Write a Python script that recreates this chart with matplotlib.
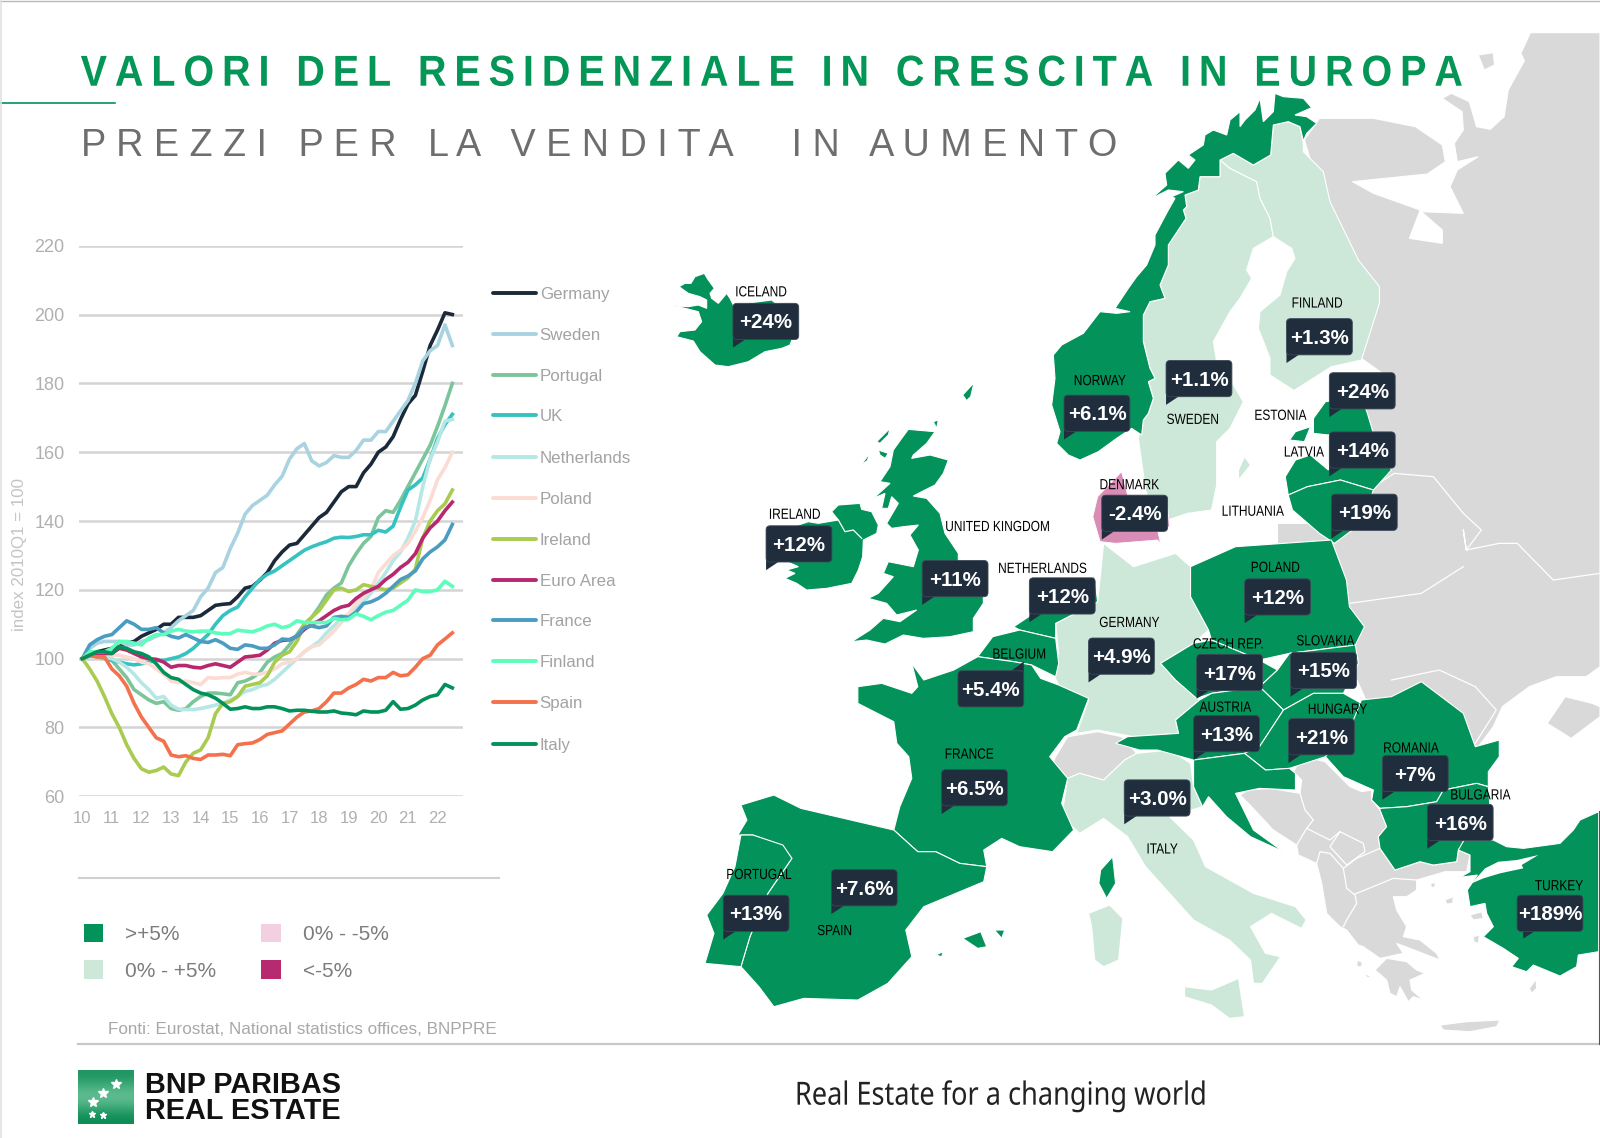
#!/usr/bin/env python3
"""Valori del residenziale in Europa - line chart, map and price change bubbles"""

import numpy as np
import matplotlib
matplotlib.use('Agg')
import matplotlib.pyplot as plt
from matplotlib.patches import FancyBboxPatch, Polygon, Rectangle
from matplotlib.patheffects import AbstractPathEffect
from matplotlib.transforms import Affine2D

GREEN = '#03925a'
LIGHT = '#cde8d9'
GREY_LAND = '#d9d9d9'
NAVY = '#1f2d3d'
PINK = '#d98cb6'
PX = 1600 / 1568

# line chart data, quarterly from 2010Q1, index 2010Q1 = 100
germany = [100, 101.5, 102, 102.5, 103, 103.5, 104.5, 105, 106.5, 107.5, 108.5, 110, 110, 112, 112, 112, 112.5,
           114, 115.5, 115.8, 116, 118, 120.5, 121, 122.8, 125, 128.5, 131, 133, 133.5, 136, 138.5, 141, 142.5,
           145.5, 148.5, 150, 150, 154, 156.5, 160, 161.5, 164.5, 169.5, 174, 176.5, 183.5, 191, 195.5, 200.5, 200]
sweden = [100, 103, 104.5, 105, 105, 105, 104, 104, 105, 105.5, 106.5, 107.5, 109, 111, 112.5, 114, 118,
          120.5, 125, 126.5, 132, 136.5, 142, 144.5, 146, 147.5, 150.5, 153, 158, 161, 162.5, 157.5, 156, 157,
          159, 158.5, 158.5, 160.5, 163.5, 163.5, 166, 166, 169, 172, 175, 180, 186.5, 189.5, 191, 197, 191]
portugal = [100, 101, 100.5, 100, 99.5, 97, 94.5, 91, 89.5, 88, 87, 87.5, 85.5, 85, 85.5, 87.5, 89,
            90, 90, 89.8, 89.5, 93, 93.5, 94.5, 96, 99, 100.5, 101.5, 104, 107, 110, 112, 115, 118.5,
            120.5, 122, 127, 130.5, 133.5, 135.5, 141, 143, 142.5, 146, 150, 154, 158, 162, 167.5, 173.5, 180]
uk = [100, 100.8, 101, 100.5, 99.5, 99, 98.5, 98.2, 98.5, 99, 99.5, 99.5, 100, 100.5, 101.5, 103, 105,
      107, 110, 112.5, 114, 115, 118, 120.5, 123, 124.5, 125.5, 127, 128.5, 130, 131.5, 132.5, 133.3, 134,
      135, 135.3, 135.2, 135.5, 136, 136, 137.3, 136.8, 138.5, 144, 149, 150.5, 152.5, 158, 164, 168, 171]
netherlands = [100, 101, 101, 100.5, 100, 99, 97.5, 95.5, 93, 91, 88.5, 89, 86.5, 85.3, 85.2, 85.2, 85.5,
               86, 86.5, 87, 88, 89, 90.5, 91, 92, 92.5, 94, 96, 98, 100, 102, 103.5, 105, 107.5,
               109.5, 111.5, 113, 114.5, 116.5, 119, 122, 125, 128.5, 131, 135, 140, 150, 158, 163, 169, 169.5]
poland = [100, 101, 102, 101.5, 101, 101, 100.5, 100, 99, 98.5, 97, 95.5, 93.5, 93, 93.5, 93, 92.5,
          94.5, 94.3, 94.5, 94.5, 95.5, 96, 95.5, 95.5, 96, 97, 98.5, 99, 100, 102, 103.5, 104, 106,
          108, 110.5, 113, 116, 118, 120, 125, 127.5, 130, 131.5, 133.5, 137, 141, 146, 152, 155.5, 160]
ireland = [100, 97, 93.5, 89, 84, 80, 75, 71, 68, 67, 67.5, 68.5, 66.5, 66, 70, 72.5, 73.5,
           77, 84, 87, 87.5, 89, 92, 92.5, 93, 95, 99, 101, 102, 105, 110, 112, 114, 117,
           120, 120.5, 119.5, 120, 121.5, 121, 120.5, 120, 120.5, 122, 123.5, 126, 135, 140, 143, 145, 149]
euro_area = [100, 101, 101.5, 101.5, 101.5, 103, 102.5, 101.5, 100.5, 100, 99.8, 99, 97.5, 98, 98, 97.5, 97.3,
             98, 98.5, 98, 97.5, 99, 100.5, 100.7, 101, 102.5, 104.5, 105.3, 105.5, 106.5, 108.5, 110, 111, 112.5,
             114, 115, 115.5, 117.5, 119, 120, 121, 123, 124.5, 126.5, 128, 130.5, 135, 138, 140, 143, 145.5]
france = [100, 104, 105.5, 106.5, 107, 109, 111, 110, 108.5, 108.5, 109, 107.5, 106.5, 106, 107, 106, 105,
          104.7, 105.5, 104.5, 103, 102.7, 104, 103.7, 103, 103, 104, 105.7, 105.5, 106.5, 109, 109.5, 109, 109.5,
          112, 112.3, 112, 113.5, 116, 116.5, 117.5, 119, 121, 123, 124, 125.5, 129, 131, 132.5, 134.5, 139]
finland = [100, 102, 102, 102, 103, 105, 105, 104.5, 104, 106, 107, 107, 108, 108.5, 108, 107.8, 108,
           108, 107.5, 107.2, 107.3, 108.3, 108, 107.8, 108.5, 109.5, 110, 109, 109.5, 111, 110.5, 110.5, 110.5, 110.5,
           111.7, 111.3, 111.5, 113, 112.3, 111.3, 112.5, 113.5, 114, 115.5, 117, 120, 119.5, 119.5, 120, 122.5, 121]
spain = [100, 101, 100.5, 100.5, 97, 95, 92, 87, 83, 80, 77, 76, 72, 71.5, 71.8, 71, 70.7,
         72, 72, 72.2, 71.8, 75, 75.3, 75.5, 76.5, 78, 78.5, 79, 81, 83, 84.5, 84.8, 85.5, 87.5,
         90, 90, 91.5, 92.5, 94, 93.5, 94.5, 94.5, 96, 95, 95.3, 97.5, 100, 101, 104, 105.7, 107.5]
italy = [100, 101, 102, 102, 101.5, 103.5, 103, 102, 101.5, 100.5, 98.5, 96, 94.5, 94, 92.5, 91, 90,
         89.5, 88.5, 87, 85.3, 85.5, 86, 85.5, 85.5, 86, 86, 85.5, 84.8, 85, 85, 84.7, 84.5, 84.5,
         84.8, 84.2, 84, 83.7, 84.8, 84.5, 84.5, 85, 87.5, 85.3, 85.5, 86.5, 88, 89, 89.5, 92.5, 91.5]

series_names = ['Germany', 'Sweden', 'Portugal', 'UK', 'Netherlands', 'Poland', 'Ireland', 'Euro Area',
                'France', 'Finland', 'Spain', 'Italy']
series_values = [germany, sweden, portugal, uk, netherlands, poland, ireland, euro_area, france, finland, spain, italy]
series_colors = ['#1b2a3a', '#a9d3e0', '#7cc59a', '#35c2c0', '#b5e8e4', '#fbdcd4', '#a8cb50', '#b8286e',
                 '#4a9cc0', '#5dfdbb', '#f4714d', '#03915a']
year_ticks = list(range(10, 23))
index_ticks = list(range(60, 221, 20))

# bubbles: label, change, colour group
countries = ['ICELAND', 'FINLAND', 'ESTONIA', 'SWEDEN', 'NORWAY', 'LATVIA', 'DENMARK', 'LITHUANIA', 'IRELAND',
             'UNITED KINGDOM', 'NETHERLANDS', 'POLAND', 'GERMANY', 'BELGIUM', 'CZECH REP.', 'SLOVAKIA', 'AUSTRIA',
             'HUNGARY', 'ROMANIA', 'BULGARIA', 'FRANCE', 'ITALY', 'SPAIN', 'PORTUGAL', 'TURKEY']
changes = ['+24%', '+1.3%', '+24%', '+1.1%', '+6.1%', '+14%', '-2.4%', '+19%', '+12%',
           '+11%', '+12%', '+12%', '+4.9%', '+5.4%', '+17%', '+15%', '+13%',
           '+21%', '+7%', '+16%', '+6.5%', '+3.0%', '+7.6%', '+13%', '+189%']
bubble_xy = [(750.5, 315), (1293, 330), (1335, 383), (1175, 371), (1075, 405), (1335, 441), (1112, 503), (1337, 502),
             (783, 533), (936, 567), (1041, 584), (1252, 585), (1099, 643), (971, 675), (1205, 659), (1297, 657),
             (1202, 719), (1295, 722), (1387, 758), (1431, 806), (955, 772), (1134, 782), (847, 870), (741, 895),
             (1519, 895)]
label_xy = [(746, 285), (1291, 296), (1255, 406), (1169, 410), (1078, 372), (1278, 442), (1107, 474), (1228, 500),
            (779, 503), (978, 515), (1022, 556), (1250, 555), (1107, 609), (999, 640), (1204, 630), (1299, 627),
            (1201, 692), (1311, 694), (1383, 732), (1451, 778), (950, 738), (1139, 831), (818, 911), (744, 856),
            (1528, 867)]


def hi(pts):
    """outline points read on the northern crop of the map"""
    return [(646.8 + x * 0.5875, (30 + y / 3) * 0.98) for x, y in pts]


def lo(pts):
    """outline points read on the southern crop of the map"""
    return [(646.8 + x * 0.5875, (530 + y / 3) * 0.98) for x, y in pts]


def at(x0, y0, pts):
    """outline points read on a 3x crop whose corner is x0, y0"""
    return [((x0 + x / 3) * 0.98, (y0 + y / 3) * 0.98) for x, y in pts]


# map outlines
russia_etc = hi([(1452, 8), (1436, 70), (1442, 92), (1415, 180), (1408, 260), (1385, 298), (1362, 290), (1350, 215),
                 (1320, 190), (1305, 205), (1338, 245), (1340, 300), (1325, 340), (1330, 395), (1365, 380), (1330, 420),
                 (1318, 470), (1340, 550), (1270, 545), (1305, 600), (1305, 640), (1250, 625), (1268, 540), (1190, 490),
                 (1155, 455), (1280, 432), (1310, 395), (1305, 345), (1260, 290), (1190, 265), (1100, 265), (1075, 330),
                 (1120, 600), (1160, 900), (1170, 985), (1205, 1030), (1150, 1110), (1190, 1250), (1190, 1370), (1170, 1480),
                 (1030, 1480), (1030, 1530)]) + \
             lo([(1030, 40), (1100, 60), (1150, 400), (1200, 600), (1365, 650), (1390, 590), (1405, 530), (1450, 470),
                 (1495, 440), (1545, 440), (1568, 410)]) + hi([(1568, 8)])
kolguev = hi([(1365, 75), (1390, 68), (1392, 105), (1375, 120)])
crimea = lo([(1510, 500), (1555, 520), (1568, 530), (1568, 560), (1520, 625), (1480, 580)])
balkans = at(1240, 740, [(0, 165), (25, 150), (90, 145), (180, 160), (185, 120), (160, 95), (175, 70), (215, 55), (255, 65),
                         (290, 100), (330, 140), (365, 155), (395, 150), (395, 180), (420, 210), (440, 260), (415, 290),
                         (420, 325), (465, 390), (540, 365), (580, 375), (650, 365), (655, 330), (690, 345), (680, 395),
                         (615, 395), (530, 420), (530, 450), (500, 470), (460, 470), (470, 510), (500, 560), (490, 590),
                         (540, 600), (590, 640), (600, 660), (510, 625), (470, 610), (490, 640), (420, 655), (370, 620),
                         (355, 615), (320, 570), (300, 560), (260, 520), (245, 430), (230, 370), (175, 345), (170, 315),
                         (100, 270), (30, 195)])
peloponnese = at(1240, 740, [(405, 690), (440, 655), (500, 665), (530, 690), (555, 700), (510, 720), (515, 750), (550, 780),
                             (520, 770), (505, 785), (480, 740), (470, 770), (450, 760), (440, 720)])
crete = at(1240, 740, [(600, 855), (680, 845), (780, 840), (770, 860), (690, 875), (610, 870)])
rhodes = at(1240, 740, [(868, 745), (888, 718), (890, 745), (875, 760)])
lesbos = at(1240, 740, [(690, 525), (725, 515), (730, 535), (700, 540)])
thasos = at(1240, 740, [(572, 430), (586, 428), (584, 442), (574, 442)])
lemnos = at(1240, 740, [(615, 480), (640, 470), (638, 490), (620, 492)])
kefalonia = at(1240, 740, [(352, 660), (368, 668), (362, 682), (350, 678)])
zakynthos = at(1240, 740, [(368, 700), (392, 708), (384, 714)])
chios = at(1240, 740, [(700, 590), (718, 585), (715, 610), (702, 606)])
switzerland = lo([(650, 720), (660, 680), (680, 620), (730, 605), (770, 620), (795, 670), (775, 690), (740, 750),
                  (700, 730), (680, 745)])

norway = at(1040, 85, [(705, 25), (730, 35), (790, 40), (815, 68), (765, 90), (800, 95), (830, 115), (800, 145), (790, 168),
                       (780, 125), (745, 110), (700, 120), (692, 210), (640, 240), (580, 205), (540, 225), (540, 275),
                       (480, 275), (475, 315), (435, 330), (440, 365), (430, 375), (438, 400), (385, 480), (385, 540),
                       (360, 600), (375, 640), (330, 650), (310, 690), (310, 770), (330, 850), (345, 880), (325, 890),
                       (340, 940), (325, 985), (310, 1005), (305, 1050), (275, 1030), (230, 1060), (175, 1100), (120, 1125),
                       (85, 1110), (50, 1075), (60, 1040), (35, 960), (45, 880), (40, 810), (65, 780), (130, 745), (180, 680),
                       (230, 685), (270, 680), (225, 670), (265, 610), (290, 575), (320, 540), (345, 480), (345, 450),
                       (385, 375), (405, 340), (395, 335), (430, 320), (385, 315), (335, 340), (380, 300), (375, 265),
                       (415, 225), (445, 250), (465, 225), (445, 210), (490, 180), (495, 150), (520, 135), (560, 150),
                       (570, 105), (600, 80), (600, 125), (615, 105), (645, 75), (660, 40), (670, 110), (700, 80)])
sweden_map = at(1040, 85, [(540, 225), (570, 250), (650, 290), (660, 340), (690, 400), (700, 455), (640, 490), (620, 555),
                           (635, 580), (600, 640), (570, 680), (520, 770), (530, 830), (580, 900), (610, 950), (570, 1030),
                           (530, 1070), (530, 1200)]) + \
             hi([(920, 1440), (880, 1450), (830, 1480), (810, 1380)]) + \
             at(1040, 85, [(295, 1060), (310, 1005), (325, 985), (340, 940), (325, 890), (345, 880), (330, 850), (310, 770),
                           (310, 690), (330, 650), (375, 640), (360, 600), (385, 540), (385, 480), (438, 400), (430, 375),
                           (440, 365), (435, 330), (475, 315), (480, 275), (540, 275)])
gotland = hi([(965, 1350), (985, 1305), (975, 1280), (965, 1320)])
finland_map = at(1040, 85, [(540, 225), (580, 205), (640, 240), (692, 210), (700, 120), (745, 110), (780, 125), (790, 175),
                            (790, 200), (850, 260), (870, 350)]) + \
              hi([(1165, 690), (1200, 770), (1200, 820), (1170, 990), (1120, 1010), (1050, 1090)]) + \
              at(1040, 85, [(760, 915), (690, 870), (690, 820), (655, 730), (660, 680), (720, 630), (740, 560), (765, 520),
                            (755, 490), (700, 455), (690, 400), (660, 340), (650, 290), (570, 250)])
iceland = at(665, 265, [(42, 65), (60, 55), (78, 55), (90, 35), (118, 25), (128, 42), (148, 70), (135, 85), (140, 100),
                        (160, 115), (185, 85), (195, 100), (205, 120), (320, 105), (345, 125), (370, 150), (390, 200),
                        (375, 240), (350, 250), (300, 260), (250, 290), (190, 305), (150, 300), (105, 260), (85, 228),
                        (35, 215), (45, 200), (90, 195), (110, 170), (100, 140), (60, 130), (28, 122), (70, 125), (100, 120),
                        (125, 130), (125, 105), (105, 95), (70, 85)])
estonia = hi([(1090, 1165), (1110, 1115), (1170, 1100), (1180, 1150), (1190, 1210), (1115, 1215), (1090, 1210)])
latvia = hi([(1115, 1215), (1190, 1210), (1220, 1320), (1190, 1380), (1135, 1350), (1080, 1370), (1048, 1395),
             (1043, 1340), (1060, 1290), (1085, 1275), (1115, 1320), (1115, 1270)])
lithuania = hi([(1048, 1395), (1080, 1370), (1135, 1350), (1190, 1380), (1170, 1480), (1125, 1540), (1100, 1510),
                (1055, 1440)])
saaremaa = hi([(1050, 1230), (1060, 1205), (1085, 1190), (1075, 1235)])
denmark = hi([(770, 1325), (780, 1395), (845, 1400), (850, 1490), (830, 1500), (835, 1540)]) + \
          lo([(830, 30), (760, 40), (735, 35)]) + hi([(735, 1540), (722, 1460), (730, 1400)])
ireland_map = at(770, 370, [(185, 425), (205, 405), (270, 400), (275, 418), (305, 425), (325, 465), (320, 490), (280, 510),
                            (278, 560), (265, 600), (245, 640), (170, 655), (110, 660), (80, 640), (45, 625), (75, 610),
                            (50, 600), (85, 590), (40, 570), (40, 480), (115, 455), (145, 460), (205, 450)])
britain = at(770, 370, [(415, 178), (495, 185), (470, 220), (430, 255), (425, 265), (480, 255), (535, 270), (520, 310),
                        (495, 345), (455, 365), (430, 378), (470, 385), (510, 430), (525, 490), (565, 550), (565, 570),
                        (640, 640), (640, 700), (610, 745), (610, 785), (540, 800), (460, 805), (400, 795), (345, 822),
                        (290, 810), (245, 815), (300, 780), (340, 745), (390, 755), (440, 720), (380, 735), (350, 700),
                        (295, 685), (325, 670), (370, 620), (340, 610), (355, 575), (430, 590), (445, 540), (420, 495),
                        (445, 465), (400, 470), (365, 475), (350, 460), (385, 400), (365, 380), (355, 415), (335, 415),
                        (345, 370), (310, 385), (360, 340), (330, 335), (360, 290), (370, 240), (395, 205)])
lewis = at(770, 370, [(320, 215), (360, 175), (355, 195), (330, 220)])
skye = at(770, 370, [(325, 240), (355, 250), (345, 265), (330, 255)])
uist = at(770, 370, [(272, 285), (300, 250), (292, 272)])
orkney = at(770, 370, [(490, 155), (505, 150), (500, 175)])
shetland = at(770, 370, [(578, 75), (612, 38), (602, 80), (590, 92)])
netherlands_map = lo([(640, 180), (725, 140), (730, 215), (660, 280), (660, 325), (600, 300), (590, 290), (615, 260)])
belgium = lo([(555, 320), (600, 300), (660, 325), (665, 400), (660, 440), (620, 405), (590, 395), (530, 380)])
france_map = lo([(420, 400), (440, 450), (490, 420), (530, 380), (590, 395), (620, 405), (635, 445), (665, 465), (715, 505),
                 (695, 600), (675, 620), (650, 680), (680, 745), (670, 820), (690, 900), (655, 965), (600, 950), (570, 925),
                 (540, 960), (545, 1010), (500, 1000), (460, 965), (430, 965), (390, 900), (400, 830), (420, 745), (415, 680),
                 (395, 640), (390, 575), (330, 520), (330, 470), (370, 460), (420, 490), (430, 470)])
corsica = lo([(735, 1020), (755, 980), (760, 1060), (745, 1105), (732, 1060)])
spain_map = lo([(135, 825), (190, 795), (235, 835), (390, 900), (430, 965), (460, 965), (500, 1000), (545, 1010), (540, 1055),
                (440, 1130), (410, 1200), (420, 1280), (380, 1360), (330, 1410), (240, 1405), (190, 1430), (165, 1370),
                (135, 1310), (150, 1220), (180, 1090), (220, 985), (200, 945), (155, 915), (130, 915), (145, 870)])
portugal_map = lo([(135, 915), (155, 915), (205, 945), (220, 985), (180, 1090), (150, 1220), (135, 1310), (75, 1300),
                   (90, 1210), (78, 1155), (105, 1090), (125, 1010)])
mallorca = lo([(505, 1225), (535, 1205), (545, 1250), (530, 1255)])
menorca = lo([(558, 1200), (575, 1200), (570, 1225)])
ibiza = lo([(460, 1275), (472, 1265), (470, 1280)])
germany_map = lo([(740, 40), (790, 110), (860, 70), (885, 110), (885, 200), (915, 300), (890, 340), (835, 400), (860, 450),
                  (900, 510), (860, 570), (865, 610), (790, 620), (730, 600), (695, 610), (715, 510), (665, 465), (650, 410),
                  (665, 370), (660, 280), (730, 215), (735, 130)])
poland_map = lo([(885, 110), (960, 50), (1120, 30), (1145, 150), (1150, 230), (1175, 290), (1160, 345), (1050, 370),
                 (1000, 390), (920, 330), (915, 300), (885, 200)])
czech = lo([(835, 400), (890, 340), (920, 330), (1000, 390), (1030, 420), (1000, 470), (920, 490), (895, 505), (860, 450)])
slovakia = lo([(1030, 420), (1050, 370), (1160, 345), (1165, 400), (1140, 490), (1090, 490), (1040, 540), (1000, 470)])
austria = lo([(860, 570), (900, 510), (920, 490), (1000, 470), (1040, 540), (1000, 650), (975, 670), (890, 690), (830, 660),
              (800, 660), (760, 640), (780, 620), (865, 610)])
hungary = lo([(1040, 540), (1090, 490), (1140, 490), (1180, 530), (1150, 600), (1110, 680), (1050, 715), (1010, 720),
              (975, 670), (1000, 650)])
romania = lo([(1170, 510), (1220, 500), (1270, 455), (1340, 550), (1360, 650), (1400, 630), (1400, 680)]) + \
          at(1240, 740, [(745, 95), (745, 140), (710, 130), (610, 150), (590, 185), (500, 200), (420, 205), (395, 180)]) + \
          lo([(1190, 780), (1140, 740), (1110, 680), (1150, 600)])
croatia = lo([(890, 690), (975, 670), (1010, 720), (1050, 715), (1060, 730), (1060, 780), (1000, 775), (960, 790), (990, 900),
              (1040, 965), (985, 920), (945, 860), (915, 800), (905, 830), (890, 770)])
bulgaria = at(1240, 740, [(420, 205), (500, 200), (590, 185), (610, 150), (710, 130), (745, 140), (758, 290), (680, 300),
                          (655, 330), (650, 365), (580, 375), (540, 365), (465, 390), (420, 325), (415, 290), (440, 260),
                          (420, 210)])
turkey = at(1240, 740, [(672, 300), (760, 300), (800, 320), (850, 325), (960, 310), (1000, 270), (1020, 240), (1076, 215),
                        (1076, 635), (1015, 645), (1010, 680), (960, 708), (880, 675), (860, 695), (815, 680), (835, 655),
                        (790, 625), (730, 590), (760, 560), (740, 520), (735, 490), (690, 500), (682, 450), (712, 405),
                        (660, 412), (690, 395), (690, 345), (655, 330)])
marmara = at(1240, 740, [(895, 345), (830, 360), (775, 365), (735, 385), (695, 430), (730, 415), (780, 400), (850, 385),
                         (845, 375)])
italy_map = lo([(795, 670), (850, 660), (885, 700), (890, 770), (905, 830), (850, 860), (890, 930), (910, 1010), (990, 1090),
                (1060, 1130), (1078, 1170), (1070, 1195), (1020, 1150), (985, 1190), (1010, 1270), (1035, 1280), (1005, 1360),
                (990, 1360), (985, 1290), (950, 1230), (890, 1170), (810, 1010), (780, 920), (740, 865), (700, 910), (670, 860),
                (680, 745), (700, 730), (740, 750), (775, 690)])
sardinia = lo([(715, 1150), (750, 1125), (772, 1165), (765, 1290), (740, 1310), (725, 1290), (720, 1190)])
sicily = lo([(875, 1370), (920, 1380), (965, 1345), (975, 1460), (950, 1465), (920, 1425), (875, 1400)])

border_lines = [
    hi([(1190, 1370), (1225, 1330), (1290, 1340), (1340, 1450), (1370, 1500), (1345, 1560)]) +
    lo([(1340, 0), (1345, 60), (1400, 40), (1430, 40), (1490, 150), (1568, 130)]),
    lo([(1150, 220), (1270, 190), (1340, 110)]),
    lo([(1220, 450), (1300, 420), (1360, 470), (1395, 540), (1360, 640)]),
    at(1240, 740, [(180, 160), (195, 210), (220, 240), (200, 265), (170, 315)]),
    at(1240, 740, [(200, 265), (270, 300), (300, 275), (370, 310), (375, 335), (320, 375), (270, 320), (300, 275)]),
    at(1240, 740, [(230, 370), (240, 335), (270, 340), (310, 385), (320, 445), (345, 465), (350, 490), (320, 540), (310, 560)]),
    at(1240, 740, [(310, 385), (350, 355), (420, 325)]),
    at(1240, 740, [(345, 462), (460, 415), (530, 420)]),
]
top_lines = [at(770, 370, [(205, 450), (225, 485), (250, 480), (275, 505)])]

grey_shapes = [russia_etc, kolguev, crimea, balkans, peloponnese, crete, rhodes, lesbos, thasos, lemnos, kefalonia,
               zakynthos, chios, switzerland]
dark_shapes = [norway, iceland, estonia, latvia, lithuania, saaremaa, ireland_map, britain, lewis, skye, uist, orkney,
               shetland, netherlands_map, belgium, france_map, corsica, spain_map, portugal_map, mallorca, menorca,
               ibiza, poland_map, czech, slovakia, austria, hungary, romania, croatia, bulgaria, turkey]
light_shapes = [sweden_map, gotland, finland_map, germany_map, italy_map, sardinia, sicily]


class Squeeze(AbstractPathEffect):
    """narrow a text horizontally around x0, no condensed font is installed"""

    def __init__(self, x0, sx):
        super().__init__()
        self.x0 = x0
        self.sx = sx

    def draw_path(self, renderer, gc, tpath, affine, rgbFace=None):
        squeeze = Affine2D().translate(-self.x0, 0).scale(self.sx, 1).translate(self.x0, 0)
        renderer.draw_path(gc, tpath, affine + squeeze, rgbFace)


def spaced(text, gap):
    """fake letter spacing, matplotlib has no tracking option"""
    return gap.join(text)


def draw_bubble(ax, cx, cy, txt, tail='left'):
    w, h = 64.5, 35.5
    left, top = cx - w / 2, cy - h / 2
    bottom = top + h
    if tail == 'left':
        tri = [(left, bottom - 3), (left, bottom + 8), (left + 12, bottom)]
    elif tail == 'up':
        tri = [(left + w, top + 3), (left + w, top - 9), (left + w - 12, top)]
    else:
        tri = [(left + 6, bottom), (left + 6, bottom + 7), (left + 17, bottom)]
    ax.add_patch(Polygon(tri, closed=True, fc=NAVY, ec='none', zorder=5))
    ax.add_patch(FancyBboxPatch((left, top), w, h, boxstyle='round,pad=0,rounding_size=4',
                                fc=NAVY, ec='#3b4855', lw=0.6, zorder=5))
    ax.text(cx, cy + 1.5, txt, color='white', fontsize=14.8, fontweight='bold', family='Liberation Sans',
            ha='center', va='center', zorder=6)


def main():
    fig = plt.figure(figsize=(16, 11.38), dpi=100)
    canvas = fig.add_axes([0, 0, 1, 1])
    canvas.set_xlim(0, 1568)
    canvas.set_ylim(1115.2, 0)
    canvas.axis('off')

    # map
    for shape in grey_shapes:
        canvas.add_patch(Polygon(shape, closed=True, fc=GREY_LAND, ec='white', lw=0.8, zorder=1))
    for line in border_lines:
        xs, ys = zip(*line)
        canvas.plot(xs, ys, color='white', lw=0.9, zorder=1.5)
    for shape in light_shapes:
        canvas.add_patch(Polygon(shape, closed=True, fc=LIGHT, ec='white', lw=0.8, zorder=2))
    for shape in dark_shapes:
        canvas.add_patch(Polygon(shape, closed=True, fc=GREEN, ec='white', lw=0.8, zorder=3))
    canvas.add_patch(Polygon(denmark, closed=True, fc=PINK, ec='white', lw=0.6, zorder=3))
    canvas.add_patch(Polygon(marmara, closed=True, fc='white', ec='none', zorder=3.2))
    for line in top_lines:
        xs, ys = zip(*line)
        canvas.plot(xs, ys, color='white', lw=0.9, zorder=3.5)

    for name, change, bxy, lxy in zip(countries, changes, bubble_xy, label_xy):
        tail = {'BELGIUM': 'up', 'TURKEY': 'mid'}.get(name, 'left')
        draw_bubble(canvas, bxy[0], bxy[1], change, tail)
        canvas.text(lxy[0], lxy[1] + 1.5, name, color='black', fontsize=10.6, family='Liberation Sans',
                    ha='center', va='center', zorder=7, path_effects=[Squeeze(lxy[0] * PX, 0.81)])

    # titles
    canvas.text(79, 84, spaced('VALORI DEL RESIDENZIALE IN CRESCITA IN EUROPA', '\u2009'), color='#049657',
                fontsize=31.2, fontweight='bold', family='Liberation Sans', ha='left', va='baseline',
                path_effects=[Squeeze(79 * PX, 0.912)])
    canvas.text(79, 153, spaced('PREZZI PER LA VENDITA', ' ') + '     \u2009' + spaced('IN AUMENTO', ' '), color='#6e6e6e',
                fontsize=27.2, family='Liberation Sans', ha='left', va='baseline')
    canvas.plot([0, 113], [100.5, 100.5], color=GREEN, lw=1.2)
    canvas.plot([0, 1568], [0.5, 0.5], color='#b8b8b8', lw=1)
    canvas.plot([0.5, 0.5], [0, 1115], color='#e2e2e2', lw=1.2)
    canvas.plot([1567.4, 1567.4], [795, 1023], color='#555555', lw=0.8, zorder=8)

    # line chart
    chart = fig.add_axes([79 / 1600, 1 - 796.3 / 1138, 384 / 1600, 550.6 / 1138])
    chart.patch.set_alpha(0)
    for values, name, color in zip(series_values, series_names, series_colors):
        x = 10 + np.arange(len(values)) / 4
        chart.plot(x, values, color=color, lw=2.6, solid_joinstyle='round', label=name, zorder=3)
    chart.set_xlim(9.89, 22.86)
    chart.set_ylim(60, 220)
    chart.set_xticks(year_ticks)
    chart.set_xticklabels(year_ticks)
    chart.set_yticks(index_ticks)
    chart.set_ylabel('index 2010Q1 = 100', color='#c4c4c4', fontsize=12.2, family='Liberation Sans')
    chart.yaxis.set_label_coords(-0.135, 0.44)
    chart.tick_params(axis='y', length=0, pad=10.5, labelsize=13, labelcolor='#b0b0b0')
    chart.tick_params(axis='x', length=0, pad=10.5, labelsize=12, labelcolor='#b0b0b0')
    for lab in chart.get_xticklabels() + chart.get_yticklabels():
        lab.set_family('Liberation Sans')
    chart.grid(axis='y', color='#d4d4d4', lw=1.8, zorder=1)
    chart.set_axisbelow(True)
    for side in chart.spines.values():
        side.set_visible(False)

    # line legend, by hand because of the tight spacing of the original
    legend_y = [287, 327, 367, 407, 447.5, 488, 528, 568, 608, 648, 688, 729]
    for y, name, color in zip(legend_y, series_names, series_colors):
        canvas.plot([483, 525], [y, y], color=color, lw=2.8, solid_capstyle='round')
        canvas.text(529, y + 1.5, name, color='#a3a3a3', fontsize=12.2, family='Liberation Sans', ha='left', va='center')

    # colour key
    canvas.plot([77, 489], [860, 860], color='#d0d0d0', lw=1.5)
    key = [(82, 905, GREEN, '>+5%'), (256, 905, '#f3cfe2', '0% - -5%'),
           (82, 941, LIGHT, '0% - +5%'), (256, 941, '#b82a70', '<-5%')]
    for x, y, color, txt in key:
        canvas.add_patch(Rectangle((x, y), 19, 18.5, fc=color, ec='none'))
        canvas.text(x + 40.5, y + 11, txt, color='#7c7c7c', fontsize=15, family='Liberation Sans', ha='left', va='center')

    canvas.text(106, 1008.5, 'Fonti: Eurostat, National statistics offices, BNPPRE', color='#a8a8a8', fontsize=12.35,
                family='Liberation Sans', ha='left', va='center')
    canvas.plot([76, 1568], [1023, 1023], color='#c8c8c8', lw=1.6)

    # footer logo
    gradient = np.array([[0.15], [1.0], [0.0]])
    cmap = matplotlib.colors.LinearSegmentedColormap.from_list('logo', ['#0a8a52', '#7fd0a8'])
    canvas.imshow(gradient, extent=(76, 130, 1101, 1049), cmap=cmap, aspect='auto', interpolation='bicubic', zorder=2)
    canvas.set_xlim(0, 1568)
    canvas.set_ylim(1115.2, 0)
    canvas.plot([114, 101, 91], [1062, 1071, 1080], ls='none', marker='*', ms=7, color='white', zorder=3)
    canvas.plot([90, 101], [1092, 1093], ls='none', marker='*', ms=4.5, color='white', zorder=3)
    canvas.text(142, 1063, 'BNP PARIBAS', color='#111111', fontsize=20.8, fontweight='bold',
                family='Liberation Sans', ha='left', va='center')
    canvas.text(142, 1089, 'REAL ESTATE', color='#111111', fontsize=20.8, fontweight='bold',
                family='Liberation Sans', ha='left', va='center')
    canvas.text(779, 1074, 'Real Estate for a changing world', color='#222222', fontsize=23, family='Noto Sans',
                ha='left', va='center', path_effects=[Squeeze(779 * PX, 0.85)])

    fig.savefig('out.png', dpi=100)


if __name__ == '__main__':
    main()
